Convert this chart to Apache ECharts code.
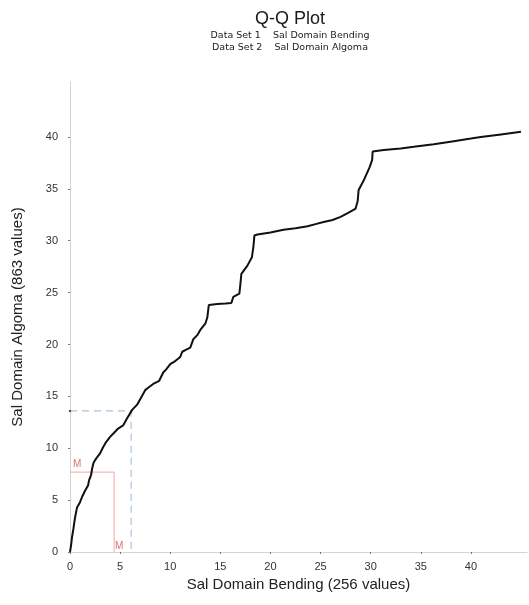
<!DOCTYPE html>
<html>
<head>
<meta charset="utf-8">
<script src="https://cdn.jsdelivr.net/npm/echarts@6/dist/echarts.min.js"></script>
<style>
  html, body { margin: 0; padding: 0; background: #fff; }
  #chart { width: 529px; height: 605px; }
</style>
</head>
<body>
<div id="chart"></div>
<script>
// Quantiles of data set 1 (x) against data set 2 (y)
const qqX = [0.0, 0.1, 0.2, 0.35, 0.5, 0.6, 0.7, 1.0, 1.2, 1.5, 1.8, 1.9, 2.1, 2.2, 2.35, 2.6, 3.0, 3.3, 3.6, 4.0,
  4.4, 4.8, 5.3, 5.7, 6.2, 6.7, 7.1, 7.5, 7.9, 8.3, 8.9, 9.3, 9.6, 10.0, 10.5, 11.0, 11.2, 11.6, 12.0, 12.3,
  12.7, 13.0, 13.5, 13.7, 13.85, 14.7, 15.5, 16.1, 16.3, 16.9, 17.0, 17.1, 17.7, 18.15, 18.3, 18.4, 18.7, 20.0, 21.3, 22.5,
  23.7, 24.5, 25.3, 26.2, 27.0, 27.8, 28.5, 28.7, 28.8, 29.3, 29.9, 30.15, 30.2, 31.3, 33.0, 34.3, 36.3, 38.3, 40.0, 41.0,
  43.0, 45.0];
const qqY = [0.0, 0.6, 1.4, 2.3, 3.3, 3.8, 4.3, 4.8, 5.3, 5.9, 6.4, 6.9, 7.4, 8.0, 8.6, 9.0, 9.5, 10.1, 10.6, 11.1,
  11.5, 11.9, 12.2, 12.9, 13.7, 14.2, 14.9, 15.6, 15.9, 16.2, 16.5, 17.3, 17.6, 18.1, 18.4, 18.8, 19.3, 19.5, 19.7, 20.5,
  20.9, 21.4, 22.0, 22.6, 23.8, 23.9, 23.95, 24.0, 24.6, 24.9, 25.8, 26.8, 27.6, 28.4, 29.4, 30.5, 30.6, 30.8, 31.05, 31.2,
  31.4, 31.6, 31.8, 32.0, 32.3, 32.7, 33.1, 33.8, 34.9, 35.8, 37.1, 37.8, 38.6, 38.75, 38.9, 39.05, 39.3, 39.6, 39.85, 40.0,
  40.25, 40.5];

// Summary statistics of both data sets
const medianX = 4.4, medianY = 7.7;
const meanX = 6.1, meanY = 13.6;

const xTicks = [0, 5, 10, 15, 20, 25, 30, 35, 40];
const yTicks = [0, 5, 10, 15, 20, 25, 30, 35, 40];

const xName = 'Sal Domain Bending (256 values)';
const yName = 'Sal Domain Algoma (863 values)';
const titleText = 'Q-Q Plot';
const subText = 'Data Set 1    Sal Domain Bending\nData Set 2    Sal Domain Algoma';

const FONT = 'Liberation Sans, Arial, sans-serif';
const chart = echarts.init(document.getElementById('chart'), null, { renderer: 'canvas' });

const qqData = qqX.map((x, i) => [x, qqY[i]]);

const axisCommon = {
  type: 'value',
  min: 0,
  interval: 5,
  splitLine: { show: false },
  axisLine: { show: true, lineStyle: { color: '#d4d4d4', width: 1 } },
  nameLocation: 'middle',
  nameTextStyle: { fontFamily: FONT, fontSize: 15, color: '#222' },
  axisLabel: { fontFamily: FONT, fontSize: 11, color: '#333' }
};

chart.setOption({
  animation: false,
  backgroundColor: '#fff',
  title: {
    text: titleText,
    subtext: subText,
    left: 285,
    top: 5,
    textAlign: 'center',
    itemGap: 2,
    textStyle: { fontFamily: FONT, fontSize: 18, fontWeight: 'normal', color: '#1a1a1a' },
    subtextStyle: { fontFamily: 'DejaVu Sans, sans-serif', fontSize: 9.5, color: '#222', lineHeight: 12 }
  },
  grid: { left: 70, right: 2, top: 82, bottom: 53, containLabel: false },
  xAxis: Object.assign({}, axisCommon, {
    max: 45.6,
    name: xName,
    nameGap: 25,
    axisTick: { show: true, length: 2, customValues: xTicks, lineStyle: { color: '#777' } },
    axisLabel: Object.assign({}, axisCommon.axisLabel, { margin: 9, customValues: xTicks })
  }),
  yAxis: Object.assign({}, axisCommon, {
    max: 45.3,
    name: yName,
    nameGap: 45,
    axisTick: { show: true, length: 2, customValues: yTicks, lineStyle: { color: '#777' } },
    axisLabel: Object.assign({}, axisCommon.axisLabel, { margin: 12, customValues: yTicks })
  }),
  series: [
    {
      // mean reference lines
      type: 'line',
      data: [
        { value: [0, meanY], symbol: 'circle', symbolSize: 2.5, itemStyle: { color: '#555' } },
        { value: [meanX, meanY], symbol: 'none' },
        { value: [meanX, 0], symbol: 'none' }
      ],
      showSymbol: true,
      lineStyle: { color: '#a9c3da', width: 1.2, type: [7, 5] },
      z: 1,
      silent: true
    },
    {
      // median reference lines
      type: 'line',
      data: [[0, medianY], [medianX, medianY], [medianX, 0]],
      symbol: 'none',
      lineStyle: { color: '#f0a8a8', width: 1 },
      z: 1,
      silent: true,
      markPoint: {
        symbol: 'circle',
        symbolSize: 0,
        label: {
          show: true,
          formatter: 'M',
          color: '#e07070',
          fontFamily: FONT,
          fontSize: 10
        },
        data: [
          { coord: [0, medianY], label: { position: 'insideBottomLeft', offset: [-2, 2] } },
          { coord: [medianX, 0], label: { position: 'insideBottomLeft', offset: [-4, 4] } }
        ]
      }
    },
    {
      type: 'line',
      data: qqData,
      symbol: 'none',
      lineStyle: { color: '#111', width: 2 },
      z: 3,
      silent: true
    }
  ]
});
</script>
</body>
</html>
